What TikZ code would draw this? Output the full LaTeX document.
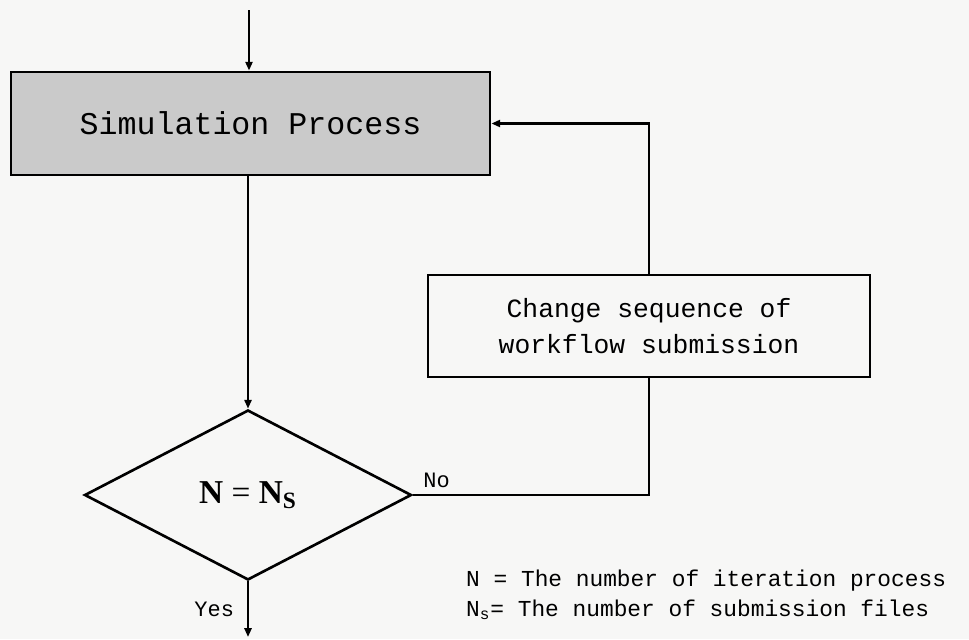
\documentclass[tikz,border=0pt]{standalone}
\usepackage{fontspec}
\setmainfont{Liberation Serif}
\setmonofont{Liberation Mono}
\definecolor{simgray}{RGB}{202, 202, 202}
\definecolor{paper}{RGB}{247, 247, 246}
\usepackage{tikz}
\usetikzlibrary{
  arrows.meta,
  positioning,
  shapes.geometric
}

\begin{document}
\begin{tikzpicture}[
  flowbox/.style={
    draw, line width=1.6pt, inner sep=4pt, align=center,
    font=\ttfamily
  },
  decide/.style={
    diamond, draw, line width=1.5pt, inner sep=0pt,
    minimum width=6.54cm, minimum height=3.4cm
  },
  flow/.style={line width=1.3pt, -{Triangle[length=5pt, width=4pt]}},
  link/.style={line width=1.3pt},
  lbl/.style={font=\ttfamily\fontsize{12.5}{15}\selectfont}
]
\fill[paper] (0, 0) rectangle (19.38, -12.78);
\useasboundingbox (0, 0) rectangle (19.38, -12.78);

\node[flowbox, fill=simgray, minimum width=9.58cm, minimum height=2.06cm,
  font=\ttfamily\fontsize{18}{22}\selectfont] (sim) at (5.01, -2.47)
  {Simulation Process};

\node[flowbox, minimum width=8.84cm, minimum height=2.04cm,
  font=\ttfamily\fontsize{15}{20}\selectfont] (chg) at (12.98, -6.52)
  {Change sequence of\\workflow submission};

\node[decide] (dec) at (4.96, -9.9)
  {\fontsize{19}{22}\selectfont\textbf{N} = \textbf{N}\textsubscript{\textbf{S}}};

\coordinate (entry) at (4.98, -0.2);
\coordinate (exit) at (4.96, -12.74);

% main flow
\draw[flow] (entry) -- (entry |- sim.north);
\draw[flow] (sim.south -| dec.north) -- (dec.north);
\draw[flow] (dec.south) -- (exit)
  node[lbl, pos=0.5, left=4pt] {Yes};

% loop back
\draw[link] (dec.east) -| (chg.south)
  node[lbl, pos=0, above right=0pt and 2pt] {No};
\draw[flow] (chg.north) |- (sim.east);

% legend
\node[lbl, anchor=west, align=left, font=\ttfamily\fontsize{13}{17}\selectfont]
  (note) at (9.2, -11.9)
  {N = The number of iteration process\\N\textsubscript{s}= The number of submission files};
\end{tikzpicture}
\end{document}
